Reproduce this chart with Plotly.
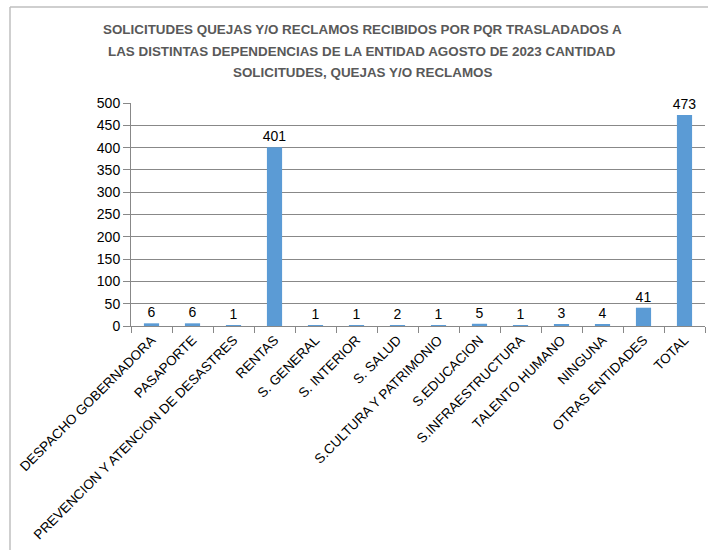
import plotly.graph_objects as go

categories = ["DESPACHO GOBERNADORA", "PASAPORTE", "PREVENCION Y ATENCION DE DESASTRES",
              "RENTAS", "S. GENERAL", "S. INTERIOR", "S. SALUD", "S.CULTURA Y PATRIMONIO",
              "S.EDUCACION", "S.INFRAESTRUCTURA", "TALENTO HUMANO", "NINGUNA",
              "OTRAS ENTIDADES", "TOTAL"]
values = [6, 6, 1, 401, 1, 1, 2, 1, 5, 1, 3, 4, 41, 473]
y_ticks = [0, 50, 100, 150, 200, 250, 300, 350, 400, 450, 500]

title_lines = ["SOLICITUDES QUEJAS Y/O RECLAMOS RECIBIDOS POR PQR TRASLADADOS A",
               "LAS DISTINTAS DEPENDENCIAS DE LA ENTIDAD AGOSTO DE 2023 CANTIDAD",
               "SOLICITUDES, QUEJAS Y/O RECLAMOS"]

FONT = "Liberation Sans, Arial, sans-serif"

W, H = 708, 550
ml, mr, mt, mb = 131, 3, 103, 224
pw, ph = W - ml - mr, H - mt - mb


def px_x(px):
    return (px - ml) / pw


def px_y(py):
    return 1 - (py - mt) / ph


fig = go.Figure(go.Bar(
    x=categories, y=values,
    marker=dict(color="#5B9BD5", line=dict(width=0)),
    text=[str(v) for v in values], textposition="outside", cliponaxis=False,
    constraintext="none",
    textfont=dict(family=FONT, size=14, color="#000000"),
    width=0.37,
))

title_y = [30, 51, 72]
annotations = [
    dict(text=t, xref="paper", yref="paper", x=px_x(362), y=px_y(yy),
         xanchor="center", yanchor="middle", showarrow=False,
         font=dict(family=FONT, size=13.4, color="#595959", weight="bold"))
    for t, yy in zip(title_lines, title_y)
]

fig.update_layout(
    width=W, height=H,
    margin=dict(l=ml, r=mr, t=mt, b=mb, autoexpand=False),
    paper_bgcolor="white", plot_bgcolor="white",
    showlegend=False,
    annotations=annotations,
    xaxis=dict(
        tickangle=-45, tickfont=dict(family=FONT, size=13.5, color="#000000"),
        showline=True, linecolor="#888888", linewidth=1,
        ticks="outside", ticklen=6, tickcolor="#888888",
        tickson="boundaries", showgrid=False, automargin=False,
    ),
    yaxis=dict(
        range=[0, 500], tickvals=y_ticks,
        tickfont=dict(family=FONT, size=14, color="#000000"),
        showline=True, linecolor="#888888", linewidth=1,
        ticks="outside", ticklen=7, tickcolor="#888888",
        showgrid=True, gridcolor="#888888", gridwidth=1, zeroline=False,
        automargin=False,
    ),
    shapes=[
        dict(type="line", xref="paper", yref="paper",
             x0=px_x(10), x1=px_x(720), y0=px_y(7), y1=px_y(7),
             line=dict(color="#BFBFBF", width=1.5)),
        dict(type="line", xref="paper", yref="paper",
             x0=px_x(10), x1=px_x(10), y0=px_y(7), y1=px_y(560),
             line=dict(color="#BFBFBF", width=1.5)),
    ],
)

fig.write_html("out.html", config={"displayModeBar": False},
               post_script="document.body.style.margin='0';")
